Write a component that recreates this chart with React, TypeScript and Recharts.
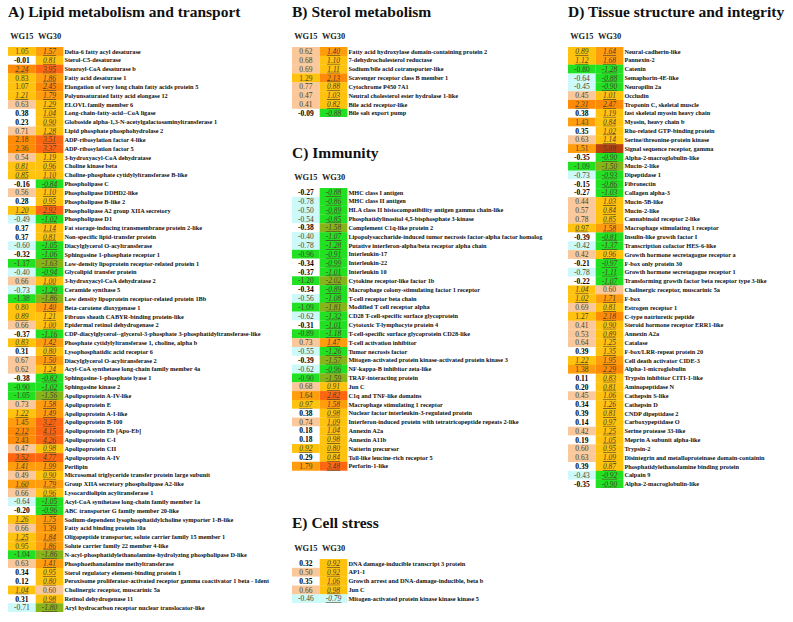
import React from 'react'
import { BarChart, Bar, XAxis, YAxis } from 'recharts'

// Fold changes per gene, two sampling groups. Italic/underlined = significant.
const groups = ['WG15', 'WG30']

// A) Lipid metabolism and transport
const lipidGenes = [
  'Delta-6 fatty acyl desaturase', 'Sterol-C5-desaturase', 'Stearoyl-CoA desaturase b', 'Fatty acid desaturase 1',
  'Elongation of very long chain fatty acids protein 5', 'Polyunsaturated fatty acid elongase 12', 'ELOVL family member 6',
  'Long-chain-fatty-acid--CoA ligase', 'Globoside alpha-1,3-N-acetylgalactosaminyltransferase 1', 'Lipid phosphate phosphohydrolase 2',
  'ADP-ribosylation factor 4-like', 'ADP-ribosylation factor 5', '3-hydroxyacyl-CoA dehydratase', 'Choline kinase beta',
  'Choline-phosphate cytidylyltransferase B-like', 'Phospholipase C', 'Phospholipase DDHD2-like', 'Phospholipase B-like 2',
  'Phospholipase A2 group XIIA secretory', 'Phospholipase D1', 'Fat storage-inducing transmembrane protein 2-like',
  'Non-specific lipid-transfer protein', 'Diacylglycerol O-acyltransferase', 'Sphingosine 1-phosphate receptor 1',
  'Low-density lipoprotein receptor-related protein 1', 'Glycolipid transfer protein', '3-hydroxyacyl-CoA dehydratase 2',
  'Ceramide synthase 5', 'Low density lipoprotein receptor-related protein 1Bb', 'Beta-carotene dioxygenase 1',
  'Fibrous sheath CABYR-binding protein-like', 'Epidermal retinol dehydrogenase 2',
  'CDP-diacylglycerol--glycerol-3-phosphate 3-phosphatidyltransferase-like', 'Phosphate cytidylyltransferase 1, choline, alpha b',
  'Lysophosphatidic acid receptor 6', 'Diacylglycerol O-acyltransferase 2', 'Acyl-CoA synthetase long-chain family member 4a',
  'Sphingosine-1-phosphate lyase 1', 'Sphingosine kinase 2', 'Apolipoprotein A-IV-like', 'Apolipoprotein E',
  'Apolipoprotein A-I-like', 'Apolipoprotein B-100', 'Apolipoprotein Eb [Apo-Eb]', 'Apolipoprotein C-I', 'Apolipoprotein CII',
  'Apolipoprotein A-IV', 'Perilipin', 'Microsomal triglyceride transfer protein large subunit',
  'Group XIIA secretory phospholipase A2-like', 'Lysocardiolipin acyltransferase 1',
  'Acyl-CoA synthetase long-chain family member 1a', 'ABC transporter G family member 20-like',
  'Sodium-dependent lysophosphatidylcholine symporter 1-B-like', 'Fatty acid binding protein 10a',
  'Oligopeptide transporter, solute carrier family 15 member 1', 'Solute carrier family 22 member 4-like',
  'N-acyl-phosphatidylethanolamine-hydrolyzing phospholipase D-like', 'Phosphoethanolamine methyltransferase',
  'Sterol regulatory element-binding protein 1',
  'Peroxisome proliferator-activated receptor gamma coactivator 1 beta - Ident', 'Cholinergic receptor, muscarinic 5a',
  'Retinol dehydrogenase 11', 'Aryl hydrocarbon receptor nuclear translocator-like',
]
const lipidWG15 = [
  1.05, -0.01, 2.24, 0.83, 1.07, 1.21, 0.63, 0.38, 0.23, 0.71, 2.18, 2.36, 0.54, 0.81, 0.85, -0.16, 0.56, 0.28, 1.2, -0.49,
  0.37, 0.37, -0.6, -0.32, -1.17, -0.4, 0.66, -0.73, -1.38, 0.8, 0.89, 0.66, -0.37, 0.83, 0.31, 0.67, 0.62, -0.38, -0.9,
  -1.05, 0.73, 1.22, 1.45, 2.12, 2.43, 0.47, 3.52, 1.41, 0.49, 1.6, 0.66, -0.64, -0.2, 1.26, 0.66, 1.25, 0.95, -1.04, 0.63,
  0.34, 0.12, 1.04, 0.31, -0.71,
]
const lipidWG30 = [
  1.57, 0.81, 3.95, 1.86, 2.45, 1.79, 1.29, 1.04, 0.9, 1.28, 3.51, 3.37, 1.19, 0.96, 1.1, -0.84, 1.1, 0.95, 2.92, -1.02,
  1.14, 0.81, -1.05, -1.06, -1.63, -0.94, 1.0, -1.29, -1.86, 1.4, 1.21, 1.0, -1.16, 1.42, 0.8, 1.5, 1.24, -0.82, -1.02,
  -1.56, 1.58, 1.49, 3.27, 4.15, 4.26, 0.98, 4.77, 1.99, 0.9, 1.79, 0.96, -1.05, -0.96, 1.75, 1.39, 1.84, 1.86, -1.86, 1.41,
  0.95, 0.8, 0.6, 0.98, -1.8,
]
const lipidSig15 = [2, 5, 13, 14, 18, 30, 33, 41, 43, 46, 47, 49, 53, 55, 61]
const lipidPlain30 = [54, 61]

// B) Sterol metabolism
const sterolGenes = [
  'Fatty acid hydroxylase domain-containing protein 2', '7-dehydrocholesterol reductase', 'Sodium/bile acid cotransporter-like',
  'Scavenger receptor class B member 1', 'Cytochrome P450 7A1', 'Neutral cholesterol ester hydrolase 1-like',
  'Bile acid receptor-like', 'Bile salt export pump',
]
const sterolWG15 = [0.62, 0.68, 0.69, 1.29, 0.77, 0.47, 0.41, -0.09]
const sterolWG30 = [1.4, 1.1, 1.11, 2.13, 0.88, 1.03, 0.82, -0.88]
const sterolSig15: number[] = []
const sterolPlain30: number[] = []

// C) Immunity
const immuneGenes = [
  'MHC class I antigen', 'MHC class II antigen', 'HLA class II histocompatibility antigen gamma chain-like',
  'Phosphatidylinositol 4,5-bisphosphate 3-kinase', 'Complement C1q-like protein 2',
  'Lipopolysaccharide-induced tumor necrosis factor-alpha factor homolog', 'Putative interferon-alpha/beta receptor alpha chain',
  'Interleukin-17', 'Interleukin-22', 'Interleukin 10', 'Cytokine receptor-like factor 1b',
  'Macrophage colony-stimulating factor 1 receptor', 'T-cell receptor beta chain', 'Modified T cell receptor alpha',
  'CD28  T-cell-specific surface glycoprotein', 'Cytotoxic T-lymphocyte protein 4',
  'T-cell-specific surface glycoprotein CD28-like', 'T-cell activation inhibitor', 'Tumor necrosis factor',
  'Mitogen-activated protein kinase-activated protein kinase 3', 'NF-kappa-B inhibitor zeta-like', 'TRAF-interacting protein',
  'Jun C', 'C1q and TNF-like domains', 'Macrophage stimulating 1 receptor', 'Nuclear factor interleukin-3-regulated protein',
  'Interferon-induced protein with tetratricopeptide repeats 2-like', 'Annexin A2a', 'Annexin A11b', 'Natterin precursor',
  'Toll-like leucine-rich receptor 5', 'Perforin-1-like',
]
const immuneWG15 = [
  -0.27, -0.78, -0.5, -0.54, -0.38, -0.4, -0.78, -0.96, -0.34, -0.37, -1.2, -0.34, -0.56, -1.09, -0.62, -0.31, -0.89, 0.73,
  -0.55, -0.39, -0.62, -0.9, 0.68, 1.64, 0.97, 0.38, 0.74, 0.18, 0.18, 0.92, 0.29, 1.79,
]
const immuneWG30 = [
  -0.88, -0.86, -0.89, -0.85, -1.58, -1.07, -1.28, -0.91, -0.99, -1.01, -2.02, -0.89, -1.08, -1.81, -1.32, -1.01, -1.18, 1.47,
  -1.26, -1.57, -0.96, -1.59, 0.91, 2.82, 1.58, 0.98, 1.09, 1.04, 0.98, 0.8, 0.84, 3.48,
]
const immuneSig15 = [24, 29]
const immunePlain30: number[] = []

// D) Tissue structure and integrity
const tissueGenes = [
  'Neural-cadherin-like', 'Pannexin-2', 'Catenin', 'Semaphorin-4E-like', 'Neuropilin 2a', 'Occludin',
  'Troponin C, skeletal muscle', 'fast skeletal myosin heavy chain', 'Myosin, heavy chain b', 'Rho-related GTP-binding protein',
  'Serine/threonine-protein kinase', 'Signal sequence receptor, gamma', 'Alpha-2-macroglobulin-like', 'Mucin-2-like',
  'Dipeptidase 1', 'Fibronectin', 'Collagen alpha-3', 'Mucin-5B-like', 'Mucin-2-like', 'Cannabinoid receptor 2-like',
  'Macrophage stimulating 1 receptor', 'Insulin-like growth factor I', 'Transcription cofactor HES-6-like',
  'Growth hormone secretagogue receptor a', 'F-box only protein 30', 'Growth hormone secretagogue receptor 1',
  'Transforming growth factor beta receptor type 3-like', 'Cholinergic receptor, muscarinic 5a', 'F-box', 'Estrogen receptor 1',
  'C-type natriuretic peptide', 'Steroid hormone receptor ERR1-like', 'Annexin A2a', 'Catalase', 'F-box/LRR-repeat protein 20',
  'Cell death activator CIDE-3', 'Alpha-1-microglobulin', 'Trypsin inhibitor CITI-1-like', 'Aminopeptidase N',
  'Cathepsin S-like', 'Cathepsin D', 'CNDP dipeptidase 2', 'Carboxypeptidase O', 'Serine protease 33-like',
  'Meprin A subunit alpha-like', 'Trypsin-2', 'Disintegrin and metalloproteinase domain-containin',
  'Phosphatidylethanolamine binding protein', 'Calpain 9', 'Alpha-2-macroglobulin-like',
]
const tissueWG15 = [
  0.89, 1.12, -0.8, -0.64, -0.45, 0.45, 2.31, 0.38, 1.43, 0.35, 0.63, 1.51, -0.35, -1.09, -0.73, -0.15, -0.27, 0.44, 0.57,
  0.78, 0.97, -0.39, -0.42, 0.42, -0.21, -0.78, -0.22, 1.04, 1.02, 0.69, 1.27, 0.41, 0.53, 0.64, 0.39, 1.22, 1.38, 0.11, 0.2,
  0.45, 0.34, 0.39, 0.14, 0.42, 0.19, 0.6, 0.63, 0.39, -0.43, -0.35,
]
const tissueWG30 = [
  1.64, 1.68, -1.28, -0.88, -0.9, 1.01, 2.47, 1.19, 0.84, 1.02, 1.14, 5.88, -0.9, -1.5, -0.93, -0.86, -1.03, 1.03, 0.84,
  0.85, 1.58, -0.81, -1.37, 0.96, -0.97, -1.11, -1.07, 0.6, 1.71, 0.81, 2.18, 0.9, 0.89, 1.25, 1.35, 1.95, 2.29, 0.83, 0.81,
  1.06, 1.26, 0.81, 0.97, 1.25, 1.05, 0.95, 1.09, 0.87, -0.92, -0.9,
]
const tissueSig15 = [0, 1, 6, 20, 27, 28, 35]
const tissuePlain30 = [27]

// E) Cell stress
const stressGenes = [
  'DNA damage-inducible transcript 3 protein', 'AP1-1', 'Growth arrest and DNA-damage-inducible, beta b', 'Jun C',
  'Mitogen-activated protein kinase kinase kinase 5',
]
const stressWG15 = [0.32, 0.5, 0.35, 0.66, -0.46]
const stressWG30 = [0.92, 0.92, 1.06, 0.98, -0.79]
const stressSig15: number[] = []
const stressPlain30: number[] = []

const ROW = 8.83
const HEAD = 20
const CELL = 1

function cellFill(v: number) {
  if (v <= -1.5) return '#86b51a'
  if (v <= -0.8) return '#22e022'
  if (v <= -0.4) return '#ccfafa'
  if (v < 0.4) return '#ffffff'
  if (v < 0.8) return '#fac89a'
  if (v < 1.37) return '#ffc20e'
  if (v < 2) return '#ff9d0d'
  if (v < 2.5) return '#ff8a06'
  if (v < 5) return '#ff6612'
  return '#b8400c'
}

function buildRows(genes: string[], a: number[], b: number[], sig15: number[], plain30: number[]) {
  return genes.map((gene, i) => ({
    id: i,
    gene,
    wg15: a[i],
    wg30: b[i],
    s15: sig15.includes(i),
    s30: !plain30.includes(i),
  }))
}

const makeCell = (key: 'wg15' | 'wg30') => (props: any) => {
  const { x, y, width, height, payload } = props
  const v: number = payload[key]
  const sig: boolean = key === 'wg15' ? payload.s15 : payload.s30
  const plainWhite = Math.abs(v) < 0.4
  return (
    <g>
      <rect x={x} y={y} width={width} height={height} fill={cellFill(v)} />
      <text
        x={x + width / 2}
        y={y + height / 2}
        dy={2.6}
        textAnchor="middle"
        fontSize={7.5}
        fontFamily="'Liberation Serif', serif"
        fontWeight={plainWhite && !sig ? 700 : 400}
        fontStyle={sig ? 'italic' : 'normal'}
        textDecoration={sig ? 'underline' : 'none'}
        fill={plainWhite ? '#000' : '#4a3f2a'}
      >
        {v.toFixed(2)}
      </text>
    </g>
  )
}

const cell15 = makeCell('wg15')
const cell30 = makeCell('wg30')

function Panel({ rows, left, top, labelWidth }: { rows: ReturnType<typeof buildRows>; left: number; top: number; labelWidth: number }) {
  const cellsWidth = 55.4
  const height = HEAD + rows.length * ROW
  return (
    <div style={{ position: 'absolute', left, top: top - HEAD }}>
      <BarChart
        width={cellsWidth + labelWidth}
        height={height}
        data={rows}
        layout="vertical"
        margin={{ top: 0, right: 0, bottom: 0, left: 0 }}
        barCategoryGap={0}
        barGap={0}
      >
        <XAxis
          type="number"
          orientation="top"
          domain={[0, 2]}
          ticks={[0.5, 1.5]}
          height={HEAD}
          axisLine={false}
          tickLine={false}
          tick={(p: any) => (
            <text x={p.x} y={HEAD - 7.7} textAnchor="middle" fontSize={8.4} fontWeight={700} fontFamily="'Liberation Serif', serif" fill="#222">
              {groups[p.index]}
            </text>
          )}
        />
        <YAxis
          type="category"
          dataKey="id"
          orientation="right"
          width={labelWidth}
          interval={0}
          axisLine={false}
          tickLine={false}
          tickSize={0}
          tickMargin={1}
          tick={(p: any) => (
            <text x={p.x} y={p.y} dy={2.2} textAnchor="start" fontSize={6.3} fontWeight={700} fontFamily="'Liberation Serif', serif" fill="#111">
              {rows[p.payload.value]?.gene}
            </text>
          )}
        />
        <Bar dataKey={() => CELL} stackId="c" shape={cell15} isAnimationActive={false} />
        <Bar dataKey={() => CELL} stackId="c" shape={cell30} isAnimationActive={false} />
      </BarChart>
    </div>
  )
}

const titleStyle: React.CSSProperties = {
  position: 'absolute',
  fontFamily: "'Liberation Serif', serif",
  fontWeight: 700,
  fontSize: 15.5,
  lineHeight: '16px',
  color: '#111',
  whiteSpace: 'nowrap',
}

export default function App() {
  return (
    <div style={{ position: 'absolute', left: 0, top: 0, width: 793, height: 622, background: '#fff', overflow: 'hidden' }}>
      <div style={{ ...titleStyle, left: 8, top: 4 }}>A) Lipid metabolism and transport</div>
      <div style={{ ...titleStyle, left: 292, top: 4 }}>B) Sterol metabolism</div>
      <div style={{ ...titleStyle, left: 292, top: 145 }}>C) Immunity</div>
      <div style={{ ...titleStyle, left: 568, top: 4 }}>D) Tissue structure and integrity</div>
      <div style={{ ...titleStyle, left: 292, top: 515 }}>E) Cell stress</div>

      <Panel rows={buildRows(lipidGenes, lipidWG15, lipidWG30, lipidSig15, lipidPlain30)} left={8} top={46.7} labelWidth={230} />
      <Panel rows={buildRows(sterolGenes, sterolWG15, sterolWG30, sterolSig15, sterolPlain30)} left={291.5} top={46.7} labelWidth={210} />
      <Panel rows={buildRows(immuneGenes, immuneWG15, immuneWG30, immuneSig15, immunePlain30)} left={291.5} top={188.3} labelWidth={210} />
      <Panel rows={buildRows(tissueGenes, tissueWG15, tissueWG30, tissueSig15, tissuePlain30)} left={568} top={46.7} labelWidth={169} />
      <Panel rows={buildRows(stressGenes, stressWG15, stressWG30, stressSig15, stressPlain30)} left={291.5} top={558.5} labelWidth={210} />
    </div>
  )
}
